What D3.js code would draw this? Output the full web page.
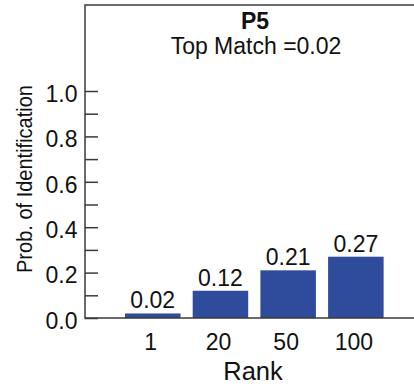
<!DOCTYPE html>
<html>
<head>
<meta charset="utf-8">
<script src="https://d3js.org/d3.v7.min.js"></script>
<style>
  body { margin: 0; background: #fff; }
  text { font-family: "Liberation Sans", Arial, Helvetica, sans-serif; fill: #111; }
</style>
</head>
<body>
<script>
var ranks = ["1", "20", "50", "100"];
var probs = [0.02, 0.12, 0.21, 0.27];
var majorTicks = [0, 0.2, 0.4, 0.6, 0.8, 1.0];
var minorTicks = [0.1, 0.3, 0.5, 0.7, 0.9];
var title = "P5";
var subtitle = "Top Match =0.02";

var W = 414, H = 389;
var plotLeft = 85, plotTop = 5, plotBottom = 318;

var svg = d3.select("body").append("svg")
    .attr("width", W).attr("height", H);

var y = d3.scaleLinear().domain([0, (plotBottom - plotTop) / 227]).range([plotBottom, plotTop]);
var x = d3.scaleBand().domain(ranks).range([112.8, 395.8]).paddingInner(0.18).paddingOuter(0.18);

// bars
svg.selectAll("rect.bar")
    .data(probs)
    .join("rect")
    .attr("class", "bar")
    .attr("x", function(d, i) { return x(ranks[i]); })
    .attr("width", x.bandwidth())
    .attr("y", function(d) { return y(d); })
    .attr("height", function(d) { return y(0) - y(d); })
    .attr("fill", "#2f4b9b");

// bar labels
svg.selectAll("text.val")
    .data(probs)
    .join("text")
    .attr("class", "val")
    .attr("x", function(d, i) { return x(ranks[i]) + x.bandwidth() / 2; })
    .attr("y", function(d) { return y(d) - 5; })
    .attr("text-anchor", "middle")
    .style("font-size", "23px")
    .text(function(d) { return d.toFixed(2); });

// frame: top, left and bottom only
var frame = svg.append("g").attr("stroke", "#3a3a3a").attr("stroke-width", 1.5).attr("fill", "none");
frame.append("path").attr("d", "M" + W + "," + plotTop + "H" + plotLeft + "V" + plotBottom + "H" + W);

// y ticks point inward
var yAxis = d3.axisRight(y).tickValues(majorTicks.concat(minorTicks)).tickSize(13).tickFormat("");
var ga = svg.append("g").attr("transform", "translate(" + plotLeft + ",0)").call(yAxis);
ga.select(".domain").remove();
ga.selectAll("line").attr("stroke", "#3a3a3a").attr("stroke-width", 1.5);

svg.selectAll("text.ylab")
    .data(majorTicks)
    .join("text")
    .attr("class", "ylab")
    .attr("x", 77.5)
    .attr("y", function(d) { return y(d) + 10.7; })
    .attr("text-anchor", "end")
    .style("font-size", "23px")
    .text(function(d) { return d.toFixed(1); });

// x labels
svg.selectAll("text.xlab")
    .data(ranks)
    .join("text")
    .attr("class", "xlab")
    .attr("x", function(d) { return x(d) + x.bandwidth() / 2 - 2; })
    .attr("y", 349.5)
    .attr("text-anchor", "middle")
    .style("font-size", "23px")
    .text(function(d) { return d; });

svg.append("text")
    .attr("x", 253).attr("y", 380)
    .attr("text-anchor", "middle")
    .style("font-size", "25.5px")
    .text("Rank");

svg.append("text")
    .attr("transform", "translate(31.5,179) rotate(-90)")
    .attr("text-anchor", "middle")
    .attr("textLength", 188)
    .attr("lengthAdjust", "spacingAndGlyphs")
    .style("font-size", "22.5px")
    .text("Prob. of Identification");

svg.append("text")
    .attr("x", 255).attr("y", 29)
    .attr("text-anchor", "middle")
    .style("font-size", "23px")
    .style("font-weight", "bold")
    .text(title);

svg.append("text")
    .attr("x", 256).attr("y", 53.5)
    .attr("text-anchor", "middle")
    .style("font-size", "23px")
    .text(subtitle);
</script>
</body>
</html>
